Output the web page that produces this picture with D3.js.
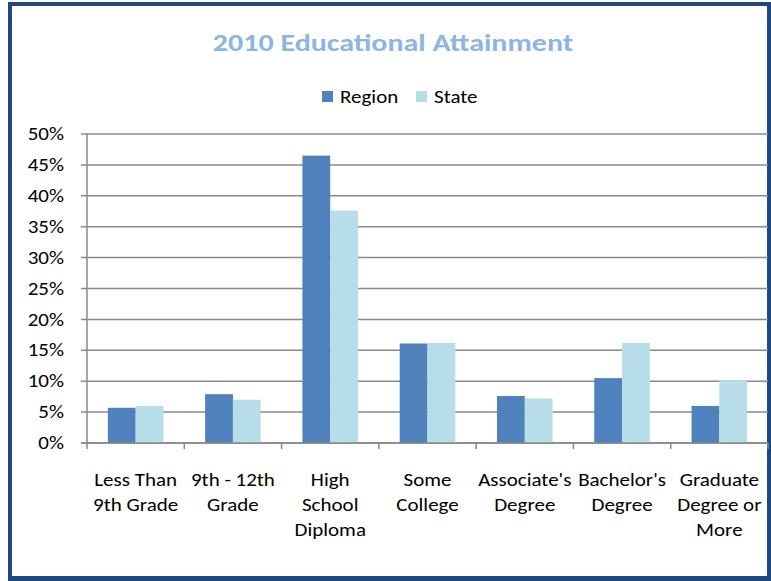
<!DOCTYPE html>
<html><head><meta charset="utf-8">
<script src="https://cdn.jsdelivr.net/npm/d3@7"></script>
<style>body{margin:0;background:#fff;}svg{display:block;}</style>
</head><body>
<svg id="c" width="771" height="581"></svg>
<script>
const categories = [["Less Than","9th Grade"],["9th - 12th","Grade"],["High","School","Diploma"],["Some","College"],["Associate's","Degree"],["Bachelor's","Degree"],["Graduate","Degree or","More"]];
const seriesNames = ["Region","State"];
const region = [5.7, 7.9, 46.5, 16.1, 7.6, 10.5, 6.0];
const state = [6.0, 7.0, 37.6, 16.2, 7.2, 16.2, 10.1];
const yTicks = [0,5,10,15,20,25,30,35,40,45,50];
const colors = ["#4F81BD","#B7DEE8"];
const FONT = "Carlito, 'Liberation Sans Narrow', 'DejaVu Sans Condensed', sans-serif";

(function(){
const SX = 1.2;
const svg = d3.select("#c");
svg.append("rect").attr("x",10).attr("y",4).attr("width",759).attr("height",574)
  .attr("fill","#fff").attr("stroke","#1F497D").attr("stroke-width",4);
svg.append("rect").attr("x",8).attr("y",576).attr("width",763).attr("height",5).attr("fill","#1F497D");

const pL = 87, pR = 768, pT = 134, pB = 443;
const x0 = d3.scaleBand().domain(d3.range(categories.length)).range([pL,pR]).padding(0);
const x1 = d3.scaleBand().domain(seriesNames).range([0, x0.bandwidth()]).paddingInner(0).paddingOuter(0.75);
const y = d3.scaleLinear().domain([0,50]).range([pB, pT]);

svg.append("g").selectAll("line").data(yTicks).join("line")
  .attr("x1",pL-6).attr("x2",pR).attr("y1",d=>y(d)).attr("y2",d=>y(d))
  .attr("stroke","#888").attr("stroke-width",1.5);

svg.append("line").attr("x1",pL).attr("x2",pL).attr("y1",pT).attr("y2",pB)
  .attr("stroke","#888").attr("stroke-width",1.5);

svg.append("g").selectAll("line").data(d3.range(categories.length+1)).join("line")
  .attr("x1",d=>pL + d*x0.step()).attr("x2",d=>pL + d*x0.step())
  .attr("y1",pB).attr("y2",pB+6).attr("stroke","#888").attr("stroke-width",1.5);

const series = [region, state];
const g = svg.append("g");
categories.forEach((c,i)=>{
  seriesNames.forEach((s,j)=>{
    const v = series[j][i];
    g.append("rect")
      .attr("x", x0(i) + x1(s))
      .attr("y", y(v)).attr("width", x1.bandwidth()).attr("height", y(0)-y(v))
      .attr("fill", colors[j]);
  });
});

svg.append("line").attr("x1",pL-6).attr("x2",pR).attr("y1",pB).attr("y2",pB)
  .attr("stroke","#888").attr("stroke-width",1.5);

svg.append("g").selectAll("text").data(yTicks).join("text")
  .attr("transform",d=>`translate(64,${y(d)}) scale(${SX},1)`)
  .attr("dy","0.35em").attr("text-anchor","end")
  .attr("font-family",FONT).attr("font-size",17.5).attr("fill","#000")
  .text(d=>d+"%");

categories.forEach((lines,i)=>{
  const t = svg.append("text").attr("text-anchor","middle")
    .attr("transform",`translate(${x0(i)+x0.bandwidth()/2},486) scale(${SX},1)`)
    .attr("font-family",FONT).attr("font-size",17.5).attr("fill","#000");
  lines.forEach((l,k)=>{
    t.append("tspan").attr("x",0).attr("y", k*25).text(l);
  });
});

svg.append("text").attr("transform",`translate(393,51) scale(${SX},1)`).attr("text-anchor","middle")
  .attr("font-family",FONT).attr("font-size",25).attr("font-weight","bold").attr("fill","#8DB4E2")
  .text("2010 Educational Attainment");

const lg = svg.append("g");
const legX = [322, 416];
seriesNames.forEach((n,j)=>{
  lg.append("rect").attr("x",legX[j]).attr("y",91).attr("width",11).attr("height",11).attr("fill",colors[j]);
  lg.append("text").attr("transform",`translate(${legX[j]+18},97) scale(${SX},1)`).attr("dy","0.35em")
    .attr("font-family",FONT).attr("font-size",17.5).attr("fill","#000").text(n);
});
})();
</script>
</body></html>
